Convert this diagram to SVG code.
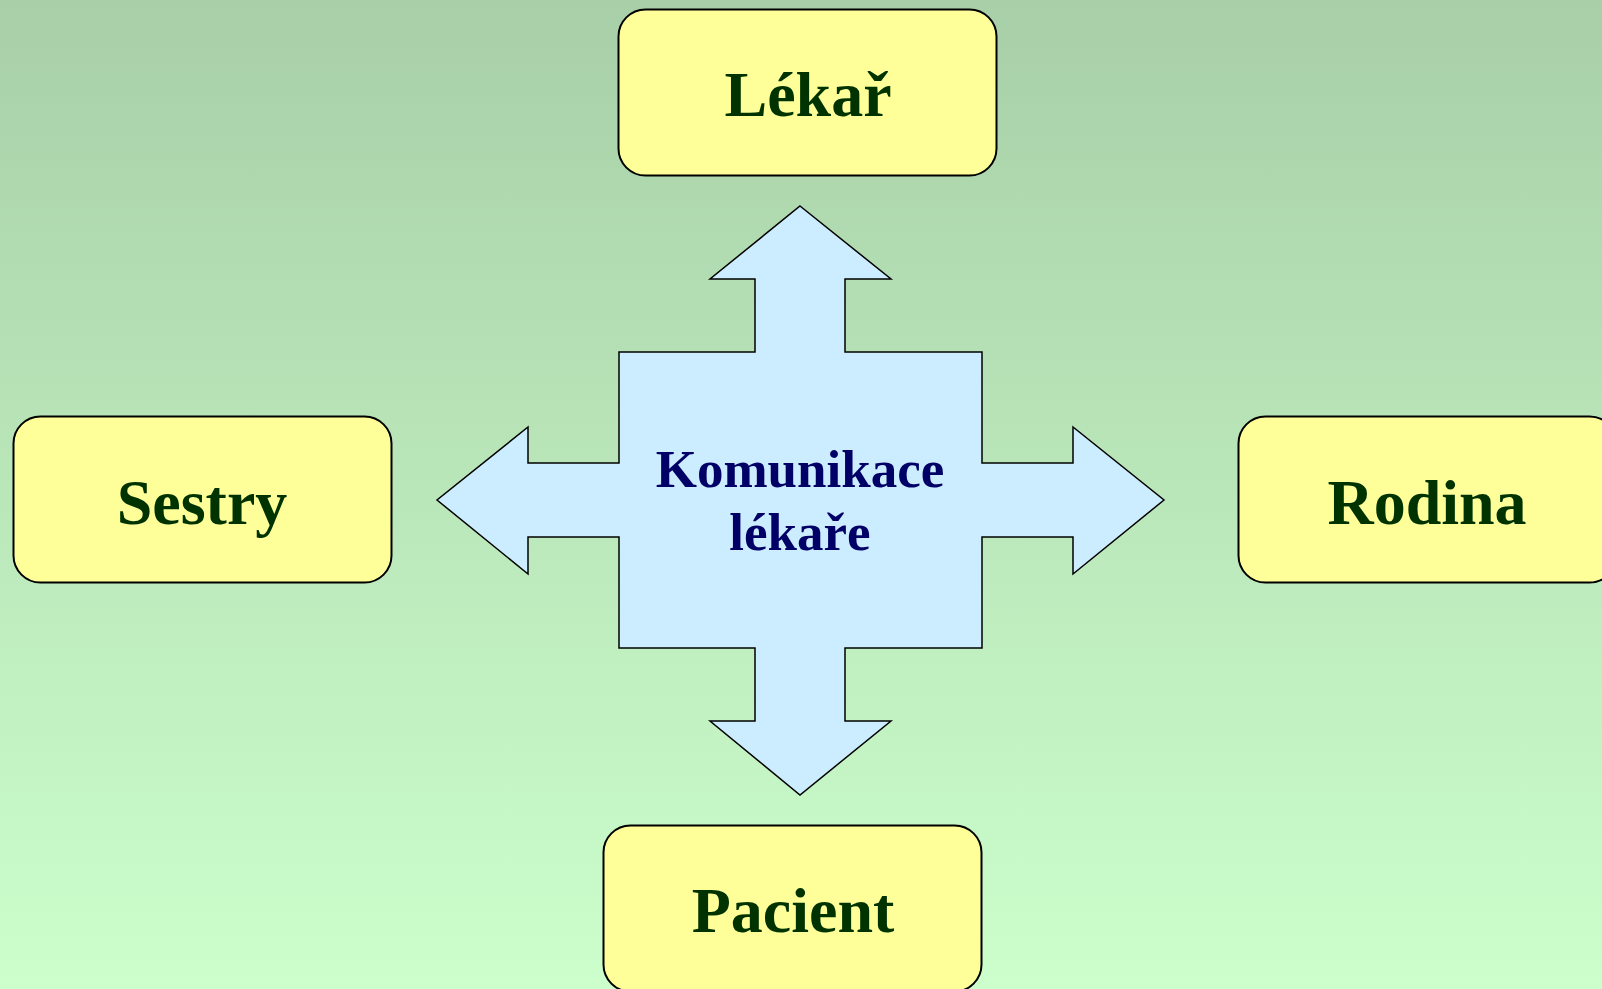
<svg xmlns="http://www.w3.org/2000/svg" width="1602" height="989" viewBox="0 0 1602 989">
  <defs>
    <linearGradient id="bg" x1="0" y1="0" x2="0" y2="1">
      <stop offset="0" stop-color="#A8CFA8"/>
      <stop offset="1" stop-color="#CCFFCC"/>
    </linearGradient>
  </defs>
  <style>
    .box { fill: #FFFF99; stroke: #000000; stroke-width: 2; }
    .lbl { font-family: "Liberation Serif", "Times New Roman", serif; font-weight: bold; font-size: 64px; fill: #003300; text-anchor: middle; }
    .arrow { fill: #CCECFF; stroke: #000000; stroke-width: 1.5; stroke-linejoin: miter; }
    .center { font-family: "Liberation Serif", "Times New Roman", serif; font-weight: bold; font-size: 53px; fill: #000066; text-anchor: middle; }
  </style>
  <rect x="0" y="0" width="1602" height="989" fill="url(#bg)"/>

  <g id="connectors">
    <path class="arrow" d="M800,206 L891,279 L845,279 L845,352 L982,352 L982,463 L1073,463 L1073,427 L1164,500 L1073,574 L1073,537 L982,537 L982,648 L845,648 L845,721 L891,721 L800,795 L710,721 L755,721 L755,648 L619,648 L619,537 L528,537 L528,574 L437,500 L528,427 L528,463 L619,463 L619,352 L755,352 L755,279 L710,279 Z"/>
  </g>

  <g id="center">
    <text class="center" x="800" y="487">Komunikace</text>
    <text class="center" x="800" y="550">lékaře</text>
  </g>

  <g id="lekar">
    <rect class="box" x="618.5" y="9.5" width="378" height="166" rx="27" ry="27"/>
    <text class="lbl" x="808" y="116">Lékař</text>
  </g>

  <g id="sestry">
    <rect class="box" x="13.5" y="416.5" width="378" height="166" rx="27" ry="27"/>
    <text class="lbl" x="202" y="524">Sestry</text>
  </g>

  <g id="rodina">
    <rect class="box" x="1238.5" y="416.5" width="378" height="166" rx="27" ry="27"/>
    <text class="lbl" x="1427" y="524">Rodina</text>
  </g>

  <g id="pacient">
    <rect class="box" x="603.5" y="825.5" width="378" height="166" rx="27" ry="27"/>
    <text class="lbl" x="793" y="932">Pacient</text>
  </g>
</svg>
